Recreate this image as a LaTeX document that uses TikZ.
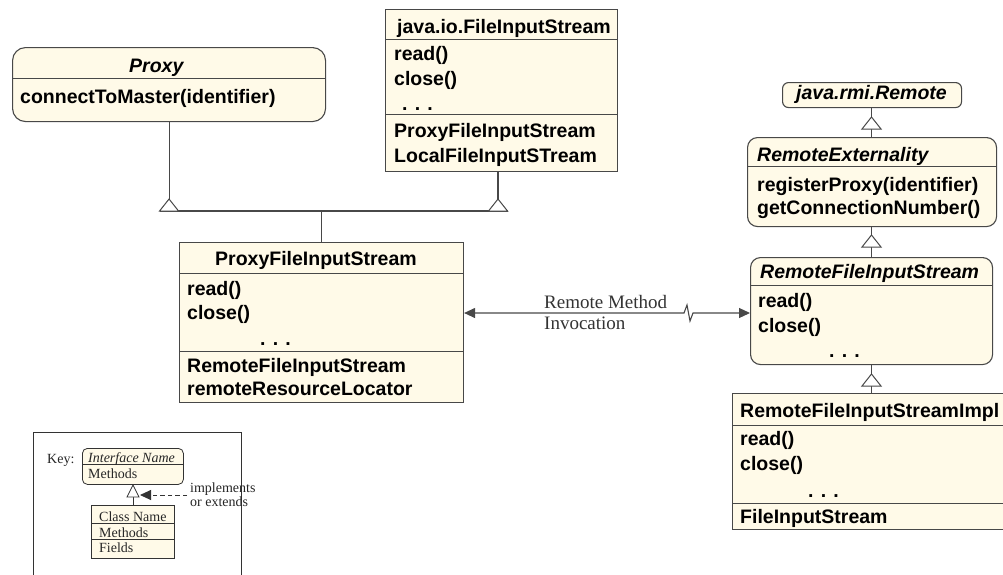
\documentclass[tikz,border=0pt]{standalone}
\usepackage{fontspec}
\setmainfont{Liberation Serif}
\newfontfamily\umlsans{Liberation Sans}
\usetikzlibrary{arrows.meta,calc}

\definecolor{boxfill}{RGB}{255,250,232}
\definecolor{boxline}{RGB}{72,72,72}

\tikzset{
  umlbox/.style={draw=boxline, fill=boxfill, line width=1.1pt, inner sep=0pt, anchor=north west},
  ifacebox/.style={umlbox, rounded corners=10pt},
  sepline/.style={draw=boxline, line width=1pt},
  member/.style={anchor=base west, inner sep=0pt, font=\umlsans\bfseries\fontsize{19.5}{24}\selectfont},
  ifacename/.style={member, font=\umlsans\bfseries\itshape\fontsize{19.5}{24}\selectfont},
  link/.style={draw=boxline, line width=1.1pt},
  gen/.style={draw=boxline, fill=white, line width=1pt, line join=miter},
  rmitext/.style={anchor=base west, inner sep=0pt, font=\fontsize{19}{21}\selectfont, text=black!80},
  keytext/.style={anchor=base west, inner sep=0pt, font=\fontsize{14}{16}\selectfont, text=black!85},
  keybox/.style={draw=black!80, fill=boxfill, line width=0.8pt, inner sep=0pt, anchor=north west},
  rmiarrow/.style={link, {Triangle[length=11pt,width=10pt]}-{Triangle[length=11pt,width=10pt]}},
}

% hollow generalisation triangle: apex, half width, height
\newcommand\gentri[3]{\draw[gen] #1 -- ++(-#2,#3) -- ++(2*#2,0) -- cycle;}

\begin{document}
\begin{tikzpicture}[x=1pt,y=-1pt]
\useasboundingbox (0,0) rectangle (1003,574);

% ---------- Proxy interface ----------
\node[ifacebox, rounded corners=13pt, minimum width=313pt, minimum height=74pt] (proxy) at (12,47) {};
\draw[sepline] (proxy.west |- 0,78) -- (proxy.east |- 0,78);
\node[ifacename] (proxy-t) at (129,72) {Proxy};
\node[member] (proxy-m1) at (20,103) {connectToMaster(identifier)};

% ---------- java.io.FileInputStream ----------
\node[umlbox, minimum width=232pt, minimum height=162pt] (fis) at (385,9) {};
\node[member] (fis-t) at (397,33) {java.io.FileInputStream};
\node[member] (fis-m1) at (394,60) {read()};
\node[member] (fis-m2) at (394,85) {close()};
\node[member] (fis-m3) at (402,110) {. . .};
\draw[sepline] (fis.west |- 0,39) -- (fis.east |- 0,39);
\draw[sepline] (fis.west |- 0,114) -- (fis.east |- 0,114);
\node[member] (fis-f1) at (394,137) {ProxyFileInputStream};
\node[member] (fis-f2) at (394,162) {LocalFileInputSTream};

% ---------- ProxyFileInputStream ----------
\node[umlbox, minimum width=284pt, minimum height=160pt] (pfis) at (179,242) {};
\draw[sepline] (pfis.west |- 0,273) -- (pfis.east |- 0,273);
\draw[sepline] (pfis.west |- 0,351) -- (pfis.east |- 0,351);
\node[member] (pfis-t) at (215,265) {ProxyFileInputStream};
\node[member] (pfis-m1) at (187,295) {read()};
\node[member] (pfis-m2) at (187,319) {close()};
\node[member] (pfis-m3) at (260,345) {. . .};
\node[member] (pfis-f1) at (187,372) {RemoteFileInputStream};
\node[member] (pfis-f2) at (187,395) {remoteResourceLocator};

% ---------- generalisations of ProxyFileInputStream ----------
\coordinate (g1) at (proxy.south |- 0,199);
\coordinate (g2) at (498,199);
\draw[link] (proxy.south) -- (g1);
\draw[link] (fis.south -| g2) -- (g2);
\draw[link] ($(g1)+(-9.5,12)$) -- ($(g2)+(9.5,12)$);
\gentri{(g1)}{9.5}{12}
\gentri{(g2)}{9.5}{12}
\coordinate (bar-j) at (pfis.north |- 0,211);
\draw[link] (bar-j) -- (pfis.north);

% ---------- java.rmi.Remote ----------
\node[ifacebox, rounded corners=6pt, minimum width=179pt, minimum height=25pt] (rremote) at (782,82) {};
\node[ifacename, anchor=base] (rremote-t) at (871.5,99) {java.rmi.Remote};

% ---------- RemoteExternality ----------
\node[ifacebox, minimum width=249pt, minimum height=89pt] (rext) at (747,137) {};
\draw[sepline] (rext.west |- 0,166) -- (rext.east |- 0,166);
\node[ifacename] (rext-t) at (757,161) {RemoteExternality};
\node[member] (rext-m1) at (757,191) {registerProxy(identifier)};
\node[member] (rext-m2) at (757,214) {getConnectionNumber()};

% ---------- RemoteFileInputStream ----------
\node[ifacebox, minimum width=242pt, minimum height=107pt] (rfis) at (750,257) {};
\draw[sepline] (rfis.west |- 0,285) -- (rfis.east |- 0,285);
\node[ifacename] (rfis-t) at (760,278) {RemoteFileInputStream};
\node[member] (rfis-m1) at (758,307) {read()};
\node[member] (rfis-m2) at (758,332) {close()};
\node[member] (rfis-m3) at (829,357) {. . .};

% ---------- RemoteFileInputStreamImpl ----------
\node[umlbox, minimum width=276pt, minimum height=136pt] (impl) at (732,393) {};
\draw[sepline] (impl.west |- 0,425) -- (impl.east |- 0,425);
\draw[sepline] (impl.west |- 0,503) -- (impl.east |- 0,503);
\node[member] (impl-t) at (740,417) {RemoteFileInputStreamImpl};
\node[member] (impl-m1) at (740,445) {read()};
\node[member] (impl-m2) at (740,470) {close()};
\node[member] (impl-m3) at (808,497) {. . .};
\node[member] (impl-f1) at (740,523) {FileInputStream};

% ---------- right-hand inheritance chain ----------
\coordinate (g3) at (871.5,117);
\coordinate (g4) at (871.5,235);
\coordinate (g5) at (871.5,374);
\draw[link] (rremote.south -| g3) -- (g3);
\draw[link] ($(g3)+(0,12)$) -- (rext.north -| g3);
\draw[link] (rext.south -| g4) -- (g4);
\draw[link] ($(g4)+(0,12)$) -- (rfis.north -| g4);
\draw[link] (rfis.south -| g5) -- (g5);
\draw[link] ($(g5)+(0,12)$) -- (impl.north -| g5);
\gentri{(g3)}{9.5}{12}
\gentri{(g4)}{9.5}{12}
\gentri{(g5)}{9.5}{12}

% ---------- remote method invocation ----------
\coordinate (zz) at (684,313);
\draw[rmiarrow] (pfis.east |- 0,313) -- (zz) -- ++(3,-8) -- ++(3,16) -- ++(3,-8) -- (rfis.west |- 0,313);
\node[rmitext] (rmi-1) at (544,308) {Remote Method};
\node[rmitext] (rmi-2) at (544,329) {Invocation};

% ---------- key ----------
\node[keybox, fill=white, minimum width=208pt, minimum height=150pt] (key) at (33,432) {};
\node[keytext] (key-l) at (47,463) {Key:};
\node[keybox, rounded corners=5pt, minimum width=101pt, minimum height=36pt] (kiface) at (82,448) {};
\draw[draw=black!80, line width=0.8pt] (kiface.west |- 0,464) -- (kiface.east |- 0,464);
\node[keytext, font=\itshape\fontsize{14}{16}\selectfont] (kiface-t) at (88,462) {Interface Name};
\node[keytext] (kiface-m) at (88,478) {Methods};
\node[keybox, minimum width=83pt, minimum height=53pt] (kclass) at (91,505) {};
\draw[draw=black!80, line width=0.8pt] (kclass.west |- 0,523) -- (kclass.east |- 0,523);
\draw[draw=black!80, line width=0.8pt] (kclass.west |- 0,539) -- (kclass.east |- 0,539);
\node[keytext] (kclass-t) at (99,521) {Class Name};
\node[keytext] (kclass-m) at (99,537) {Methods};
\node[keytext] (kclass-f) at (99,552) {Fields};
\coordinate (g6) at (133,485);
\draw[draw=black!80, line width=0.8pt] ($(g6)+(0,12)$) -- (kclass.north -| g6);
\draw[gen, draw=black!80, line width=0.8pt] (g6) -- ++(-6,12) -- ++(12,0) -- cycle;
\node[keytext] (key-impl) at (190,492) {implements};
\node[keytext] (key-ext) at (190,506) {or extends};
\coordinate (keytip) at (140,495);
\draw[draw=black!80, line width=0.9pt, dash pattern=on 4.5pt off 3pt, -{Triangle[length=11pt,width=10pt]}] (187,495) -- (keytip);

\end{tikzpicture}
\end{document}
